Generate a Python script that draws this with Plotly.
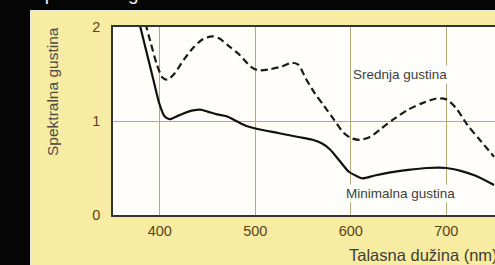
import plotly.graph_objects as go

# Data
min_x = [376, 385, 393, 400, 405, 410, 420, 430, 442, 450, 460, 470, 480, 490, 500,
         525, 545, 560, 570, 578, 588, 598, 605, 612, 625, 640, 660, 680, 700, 715, 730, 750]
min_y = [2.15, 1.78, 1.45, 1.17, 1.05, 1.02, 1.06, 1.10, 1.12, 1.10, 1.07, 1.05, 1.0, 0.95, 0.92,
         0.87, 0.83, 0.80, 0.76, 0.70, 0.58, 0.46, 0.42, 0.39, 0.42, 0.45, 0.48, 0.50, 0.50, 0.47, 0.42, 0.32]

mid_x = [382, 390, 397, 403, 408, 415, 425, 435, 445, 455, 462, 472, 484, 495, 503, 515, 528,
         538, 545, 553, 562, 572, 582, 592, 600, 609, 620, 632, 645, 660, 675, 690, 700, 710,
         722, 735, 750]
mid_y = [2.15, 1.85, 1.6, 1.46, 1.44, 1.50, 1.65, 1.78, 1.87, 1.90, 1.88, 1.80, 1.70, 1.58, 1.54,
         1.55, 1.58, 1.62, 1.60, 1.45, 1.30, 1.16, 1.02, 0.88, 0.82, 0.80, 0.83, 0.92, 1.02, 1.12,
         1.19, 1.24, 1.23, 1.14, 0.96, 0.80, 0.62]

x_ticks = [400, 500, 600, 700]
y_ticks = [0, 1, 2]

title_text = "Spektralna gustina"
y_title = "Spektralna gustina"
x_title = "Talasna dužina (nm)"
label_mid = "Srednja gustina"
label_min = "Minimalna gustina"

# layout geometry (pixels)
W, H = 495, 265
L, R, T, B = 113, 0, 27, 50
pw = W - L - R
ph = H - T - B

def px(p):
    return (p - L) / pw

def py(p):
    return (H - B - p) / ph

FONT = "Liberation Sans, Arial, sans-serif"

fig = go.Figure()
fig.add_trace(go.Scatter(x=mid_x, y=mid_y, mode="lines",
                         line=dict(color="#1a1a1a", width=2.2, dash="7px,4px", shape="spline", smoothing=0.8),
                         showlegend=False, hoverinfo="skip"))
fig.add_trace(go.Scatter(x=min_x, y=min_y, mode="lines",
                         line=dict(color="#111111", width=2.2, shape="spline", smoothing=0.8),
                         showlegend=False, hoverinfo="skip"))

grid_col = "#bba779"
tick_font = dict(family=FONT, size=14.5, color="#5a4418")

fig.update_layout(
    width=W, height=H,
    margin=dict(l=L, r=R, t=T, b=B, pad=0),
    paper_bgcolor="#050505",
    plot_bgcolor="#fffefa",
    xaxis=dict(range=[351, 751], tickvals=x_ticks, ticktext=[str(v) for v in x_ticks],
               showgrid=True, gridcolor=grid_col, gridwidth=1,
               showline=True, linecolor="#333333", linewidth=1.5, mirror=True,
               ticks="outside", ticklen=2, tickcolor="rgba(0,0,0,0)",
               tickfont=tick_font, zeroline=False, fixedrange=True),
    yaxis=dict(range=[0, 2], tickvals=y_ticks, ticktext=[str(v) for v in y_ticks],
               showgrid=True, gridcolor=grid_col, gridwidth=1,
               showline=True, linecolor="#333333", linewidth=1.5,
               ticks="outside", ticklen=8, tickcolor="rgba(0,0,0,0)",
               tickfont=tick_font, zeroline=False, fixedrange=True),
    shapes=[
        dict(type="rect", xref="paper", yref="paper", layer="below",
             x0=px(31), x1=px(W + 10), y0=py(H + 10), y1=py(11),
             fillcolor="#f8eca2", line=dict(color="#e9e6da", width=2)),
        dict(type="rect", xref="paper", yref="paper", layer="below",
             x0=0, x1=1, y0=0, y1=1,
             fillcolor="#fffefa", line=dict(width=0)),
    ],
    annotations=[
        dict(text=title_text, xref="paper", yref="paper", x=px(30), y=py(6),
             xanchor="left", yanchor="bottom", showarrow=False,
             font=dict(family=FONT, size=19, color="#f4f4f4")),
        dict(text=y_title, xref="paper", yref="paper", x=px(52), y=py(92),
             xanchor="center", yanchor="middle", textangle=-90, showarrow=False,
             font=dict(family=FONT, size=15.5, color="#4a4a40")),
        dict(text=x_title, xref="paper", yref="paper", x=px(347), y=py(255),
             xanchor="left", yanchor="middle", showarrow=False,
             font=dict(family=FONT, size=16.5, color="#3e3e36")),
        dict(text=label_mid, x=652, y=1.49, xref="x", yref="y", showarrow=False,
             bgcolor="#fffefa", borderpad=1,
             font=dict(family=FONT, size=13.5, color="#404040")),
        dict(text=label_min, x=652, y=0.23, xref="x", yref="y", showarrow=False,
             bgcolor="#fffefa", borderpad=1,
             font=dict(family=FONT, size=13.5, color="#404040")),
    ],
)

fig.write_html("out.html", config={"displayModeBar": False},
               post_script="document.body.style.margin='0';document.body.style.overflow='hidden';document.body.style.background='#050505';")
